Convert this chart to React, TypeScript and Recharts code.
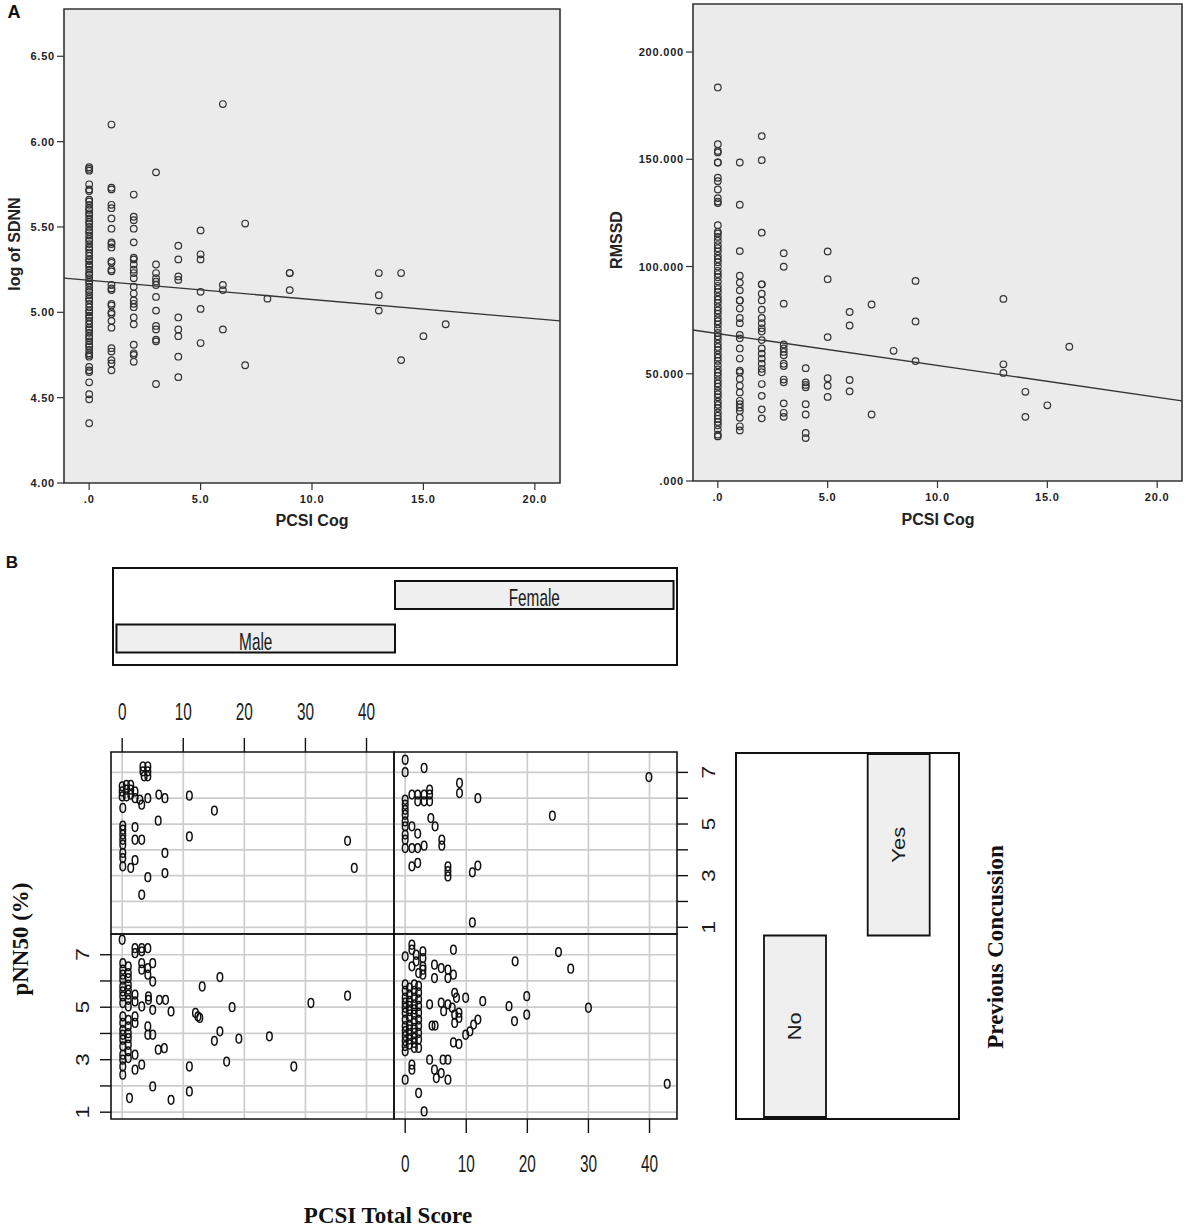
import React from 'react';
import {
  ScatterChart, Scatter, XAxis, YAxis, CartesianGrid, ReferenceLine, ReferenceArea,
  BarChart, Bar, LabelList,
} from 'recharts';

const SANS = '"Liberation Sans", Arial, Helvetica, sans-serif';
const SERIF = '"Liberation Serif", "Times New Roman", serif';

// ---------------- Panel A data ----------------
const cogTicks = [0, 5, 10, 15, 20];
const cogDomain = [-1.13, 21.13];
const sdnnTicks = [4, 4.5, 5, 5.5, 6, 6.5];
const sdnnDomain = [4, 6.777];
const rmssdTicks = [0, 50, 100, 150, 200];
const rmssdDomain = [0, 222.4];

// [PCSI Cog score, log of SDNN values]
const sdnnCols: [number, number[]][] = [
  [0, [5.85, 5.84, 5.83, 5.75, 5.72, 5.71, 5.66, 5.65, 5.63, 5.61, 5.6, 5.58, 5.57, 5.55, 5.53, 5.52, 5.5, 5.48, 5.47, 5.45, 5.43, 5.42, 5.4, 5.38, 5.37, 5.35, 5.33, 5.31, 5.3, 5.28, 5.27, 5.25, 5.23, 5.22, 5.2, 5.18, 5.17, 5.15, 5.13, 5.12, 5.1, 5.08, 5.07, 5.05, 5.03, 5.01, 5.0, 4.98, 4.97, 4.95, 4.93, 4.91, 4.9, 4.88, 4.86, 4.85, 4.83, 4.81, 4.8, 4.78, 4.76, 4.75, 4.74, 4.68, 4.66, 4.65, 4.59, 4.52, 4.49, 4.35]],
  [1, [6.1, 5.73, 5.72, 5.63, 5.61, 5.55, 5.49, 5.41, 5.4, 5.38, 5.3, 5.29, 5.25, 5.24, 5.16, 5.14, 5.13, 5.05, 5.04, 5.0, 4.99, 4.95, 4.91, 4.79, 4.77, 4.72, 4.7, 4.66]],
  [2, [5.69, 5.56, 5.54, 5.49, 5.41, 5.32, 5.31, 5.28, 5.25, 5.23, 5.2, 5.15, 5.11, 5.07, 5.05, 5.03, 4.97, 4.93, 4.81, 4.76, 4.75, 4.71]],
  [3, [5.82, 5.28, 5.23, 5.2, 5.18, 5.16, 5.09, 5.01, 4.92, 4.9, 4.84, 4.83, 4.58]],
  [4, [5.39, 5.31, 5.21, 5.19, 4.97, 4.9, 4.86, 4.74, 4.62]],
  [5, [5.48, 5.34, 5.31, 5.12, 5.02, 4.82]],
  [6, [6.22, 5.16, 5.13, 4.9]],
  [7, [5.52, 4.69]],
  [8, [5.08]],
  [9, [5.23, 5.23, 5.13]],
  [13, [5.23, 5.1, 5.01]],
  [14, [5.23, 4.72]],
  [15, [4.86]],
  [16, [4.93]],
];

// [PCSI Cog score, RMSSD values]
const rmssdCols: [number, number[]][] = [
  [0, [183.5, 157, 153.9, 153.2, 148.5, 148.5, 141.4, 139.8, 135.9, 131.9, 130.3, 129.6, 119.3, 116.2, 115.4, 113.8, 112, 110, 108.5, 107, 105, 103.5, 102, 100, 98, 96.5, 95, 93, 91, 89.5, 88, 86, 84.5, 83, 81, 79.5, 78, 76, 74.5, 73, 71, 69, 67.5, 66, 64, 62.5, 61, 59, 57.5, 56, 54, 52, 50.5, 49, 47, 45.5, 44, 42, 40.5, 39, 37, 35.5, 34, 32, 30.5, 29, 27.5, 26, 24, 21.6, 20.8]],
  [1, [148.5, 128.8, 107.2, 95.7, 92.5, 88.9, 84.2, 84.2, 80.4, 76, 73.6, 68.1, 66.5, 61.8, 57.1, 51.5, 50.7, 47.6, 44.4, 41.3, 37.4, 35.8, 34.2, 32.6, 29.5, 25.5, 23.6]],
  [2, [160.8, 149.6, 115.8, 91.7, 91.7, 87.3, 84.2, 79.9, 76, 73.6, 71.2, 69.7, 65.7, 61.8, 59.4, 57.1, 54.7, 52.3, 50.7, 45.2, 39.7, 33.4, 29.2]],
  [3, [106.2, 99.9, 82.7, 63.7, 61.8, 60.2, 58.6, 54.7, 53.6, 47.3, 46.0, 36.2, 31.8, 29.9]],
  [4, [52.6, 46, 44.8, 43.7, 35.8, 31, 22.4, 20]],
  [5, [107, 94.1, 67.1, 47.9, 44.4, 39.2]],
  [6, [78.8, 72.5, 47.1, 41.8]],
  [7, [82.3, 31]],
  [8, [60.7]],
  [9, [93.3, 74.4, 55.9]],
  [13, [84.9, 54.4, 50.4]],
  [14, [41.6, 29.9]],
  [15, [35.3]],
  [16, [62.6]],
];

const sdnnFit = [{ x: -1.13, y: 5.2 }, { x: 21.13, y: 4.95 }];
const rmssdFit = [{ x: -1.13, y: 70.4 }, { x: 21.13, y: 37.4 }];

// ---------------- Panel B data ----------------
const pcsiTicks = [0, 10, 20, 30, 40];
const pcsiDomain = [-1.83, 44.5];
const pnnTicks = [1, 2, 3, 4, 5, 6, 7];
const pnnDomain = [0.74, 7.79];

const genderLevels = ['Female', 'Male'];
const genderIntervals = [[1.5, 2.5], [0.5, 1.5]];
const concussionLevels = ['No', 'Yes'];
const concussionIntervals = [[0.5, 1.5], [1.5, 2.5]];

// [PCSI total score, pNN50]
const maleYes: number[][] = [
  [3.4, 7.23], [4.2, 7.23], [3.4, 7.04], [4.2, 7.04], [3.6, 6.85], [4.2, 6.85],
  [0, 6.46], [0.7, 6.52], [1.4, 6.52], [0, 6.26], [0.7, 6.33], [1.4, 6.33], [2.1, 6.26], [0, 6.07], [0.7, 6.07], [1.4, 6.14], [2.1, 6.0], [2.9, 5.94], [3.2, 5.75],
  [6.0, 6.14], [7.0, 6.0], [4.2, 6.0], [11.0, 6.1], [15.1, 5.52], [5.9, 5.13], [0.1, 5.62],
  [0.1, 4.94], [0.1, 4.78], [0.1, 4.59], [0.1, 4.39], [0.1, 4.2], [0.1, 3.88], [0.1, 3.68],
  [2.1, 4.88], [2.1, 4.39], [3.2, 4.39], [11.0, 4.52], [7.0, 3.88], [2.1, 3.6], [0.1, 3.36], [1.4, 3.3], [7.0, 3.1], [4.2, 2.94], [3.2, 2.26], [36.9, 4.35], [38.0, 3.3],
];
const femaleYes: number[][] = [
  [0, 7.49], [0, 7.01], [3.1, 7.17],
  [8.9, 6.59], [8.9, 6.2], [11.9, 6.0],
  [1.1, 6.14], [2.05, 6.14], [3.1, 6.14], [4.0, 6.14], [4.0, 6.33], [2.05, 5.88], [3.1, 5.88], [4.0, 5.88],
  [0, 5.94], [0, 5.75], [0, 5.55], [0, 5.36], [0, 5.1], [0, 4.91], [0, 4.59], [0, 4.39], [0, 4.07],
  [1.1, 4.07], [2.05, 4.07], [3.1, 4.16], [1.1, 4.91], [2.05, 4.63], [4.2, 5.23], [4.9, 4.91],
  [6.0, 4.39], [6.0, 4.16], [1.1, 3.36], [2.05, 3.49], [7.0, 3.36], [7.0, 3.17], [7.0, 2.97], [11.0, 3.13], [11.9, 3.39], [11.0, 1.19], [24.1, 5.32], [39.9, 6.82],
];
const maleNo: number[][] = [
  [0, 7.57],
  [2.1, 7.25], [3.2, 7.25], [4.2, 7.25], [2.1, 7.06], [3.2, 7.13],
  [0.1, 6.68], [0.1, 6.43], [0.1, 6.24], [0.1, 6.05], [0.1, 5.79], [0.1, 5.6], [0.1, 5.41], [0.1, 5.16], [0.1, 4.65], [0.1, 4.4], [0.1, 4.14], [0.1, 3.95], [0.1, 3.76], [0.1, 3.51], [0.1, 3.19], [0.1, 3.0], [0.1, 2.74], [0.1, 2.43],
  [1.0, 6.56], [1.0, 6.3], [1.0, 6.11], [1.0, 5.86], [1.0, 5.67], [1.0, 5.48], [1.0, 5.28], [1.0, 5.03], [1.0, 4.52], [1.0, 4.27], [1.0, 4.01], [1.0, 3.82], [1.0, 3.57], [1.0, 3.32], [1.0, 3.06],
  [2.1, 3.19], [2.1, 2.62], [3.2, 2.81], [2.1, 4.65], [2.1, 4.4],
  [3.2, 6.68], [4.2, 6.49], [5.0, 6.68], [3.2, 6.43], [4.2, 6.24], [5.0, 5.98],
  [2.1, 5.48], [2.1, 5.22], [3.2, 5.03], [4.3, 5.28], [5.0, 4.9], [4.3, 5.41], [6.1, 5.28], [7.1, 5.28], [8.0, 4.84],
  [4.2, 4.27], [4.2, 3.95], [5.0, 3.95], [5.9, 3.38], [6.9, 3.44],
  [5.0, 1.98], [1.2, 1.54], [8.0, 1.47], [11.0, 2.74], [11.0, 1.79],
  [12.0, 4.78], [12.4, 4.65], [12.7, 4.59], [13.1, 5.79], [16.0, 6.15], [18.0, 5.0], [16.0, 4.08], [15.1, 3.72], [19.1, 3.8], [17.1, 2.93], [24.1, 3.89], [28.1, 2.74], [30.9, 5.16], [36.9, 5.44],
];
const femaleNo: number[][] = [
  [1.1, 7.38], [1.1, 7.19], [2.9, 7.13], [2.9, 6.87], [2.9, 6.56], [1.8, 7.0], [1.8, 6.75], [0, 6.94], [1.1, 6.56], [7.9, 7.19],
  [2.9, 6.43], [2.9, 6.24], [4.8, 6.62], [5.9, 6.49], [7.0, 6.43], [4.8, 6.11], [7.0, 6.11], [7.9, 6.24], [2.2, 6.3],
  [0, 5.87], [0, 5.62], [0, 5.36], [0, 5.17], [0, 4.98], [0, 4.79], [0, 4.53], [0, 4.28], [0, 4.09], [0, 3.9], [0, 3.71], [0, 3.52], [0, 3.32],
  [0.7, 5.75], [0.7, 5.49], [0.7, 5.24], [0.7, 5.05], [0.7, 4.85], [0.7, 4.6], [0.7, 4.34], [0.7, 4.15], [0.7, 3.96], [0.7, 3.77], [0.7, 3.58],
  [1.5, 5.87], [1.5, 5.62], [1.5, 5.36], [1.5, 5.11], [1.5, 4.92], [1.5, 4.72], [1.5, 4.47], [1.5, 4.21], [1.5, 4.02], [1.5, 3.83], [1.5, 3.64], [1.5, 3.45],
  [2.2, 5.81], [2.2, 5.56], [2.2, 5.3], [2.2, 5.05], [2.2, 4.79], [2.2, 4.53], [2.2, 4.28], [2.2, 4.02], [2.2, 3.77], [2.2, 3.45],
  [4.0, 5.11], [5.9, 5.17], [6.3, 4.85], [7.0, 5.11], [7.7, 4.98], [8.1, 4.72], [8.8, 4.79], [8.1, 4.4], [8.8, 4.59], [9.9, 5.36], [8.1, 5.55], [8.4, 5.36], [12.7, 5.23], [17.0, 5.04], [17.9, 4.47], [19.9, 5.42], [19.9, 4.72], [30.0, 4.98],
  [4.4, 4.3], [4.9, 4.3], [7.9, 3.66], [8.8, 3.6], [9.9, 3.95], [10.6, 4.08], [11.2, 4.34], [11.9, 4.53],
  [4.0, 3.0], [6.2, 3.0], [7.0, 3.0], [4.8, 2.62], [5.1, 2.3], [5.9, 2.49], [7.0, 2.24], [0, 2.24], [2.2, 1.73], [3.1, 1.03], [1.1, 2.62], [1.1, 2.81],
  [18.0, 6.75], [25.1, 7.1], [27.1, 6.47], [42.9, 2.08],
];

// ---------------- helpers ----------------
const fromCols = (cols: [number, number[]][]) => cols.flatMap(([x, ys]) => ys.map((y) => ({ x, y })));
const fromPairs = (arr: number[][]) => arr.map(([x, y]) => ({ x, y }));
const spssNum = (v: number, d: number) => (v === 0 ? '.' + '0'.repeat(d) : v.toFixed(d));

const ring = (p: any) => (
  <circle cx={p.cx} cy={p.cy} r={3.3} fill="none" stroke="#333" strokeWidth={1.2} />
);
const oval = (p: any) => (
  <ellipse cx={p.cx} cy={p.cy} rx={2.8} ry={4.4} fill="none" stroke="#111" strokeWidth={1.5} />
);

const Txt = ({ x, y, children, rot = 0, style = {} }: any) => (
  <div
    style={{
      position: 'absolute', left: x, top: y, whiteSpace: 'nowrap', lineHeight: 1,
      transform: `translate(-50%, -50%) rotate(${rot}deg)`, ...style,
    }}
  >
    {children}
  </div>
);

const spssTickStyle = { fontFamily: SANS, fontWeight: 700, fontSize: 11, fill: '#222', letterSpacing: '0.8px' } as any;

function SpssPlot({ left, top, axisW, plotW, plotH, data, fit, yTicks, yDomain, yDec }: any) {
  const m = { top: 4, right: 4, bottom: 0, left: 0 };
  const xH = 40;
  const W = axisW + plotW + m.right;
  const H = m.top + plotH + xH;
  const XTick = (p: any) => (
    <text x={p.x} y={p.y + 9} textAnchor="middle" style={spssTickStyle}>{spssNum(p.payload.value, 1)}</text>
  );
  const YTick = (p: any) => (
    <text x={p.x} y={p.y + 4} textAnchor="end" style={spssTickStyle}>{spssNum(p.payload.value, yDec)}</text>
  );
  return (
    <div style={{ position: 'absolute', left, top: top - m.top, width: W, height: H }}>
      <ScatterChart width={W} height={H} margin={m}>
        <CartesianGrid fill="#ebebeb" fillOpacity={1} horizontal={false} vertical={false} stroke="none" />
        <XAxis type="number" dataKey="x" domain={cogDomain} ticks={cogTicks} allowDataOverflow interval={0}
          height={xH} tickSize={7} tickMargin={4} axisLine={false} tickLine={{ stroke: '#333', strokeWidth: 1.2 }} tick={XTick} />
        <YAxis type="number" dataKey="y" domain={yDomain} ticks={yTicks} allowDataOverflow interval={0}
          width={axisW} tickSize={7} tickMargin={2} axisLine={false} tickLine={{ stroke: '#333', strokeWidth: 1.2 }} tick={YTick} />
        <ReferenceArea x1={cogDomain[0]} x2={cogDomain[1]} y1={yDomain[0]} y2={yDomain[1]} fill="none" fillOpacity={0}
          stroke="#333" strokeWidth={1.6} ifOverflow="visible" />
        <Scatter data={data} shape={ring} isAnimationActive={false} />
        <ReferenceLine segment={fit} stroke="#333" strokeWidth={1.3} ifOverflow="visible" />
      </ScatterChart>
    </div>
  );
}

const latticeTickText = { fontFamily: SANS, fontSize: 24, fill: '#1a1a1a' } as any;

const TopTick = (p: any) => (
  <g transform={`translate(${p.x},${p.y - 26}) scale(0.64,1)`}>
    <text x={0} y={0} textAnchor="middle" dominantBaseline="central" style={latticeTickText}>{p.payload.value}</text>
  </g>
);
const BottomTick = (p: any) => (
  <g transform={`translate(${p.x},${p.y + 31}) scale(0.64,1)`}>
    <text x={0} y={0} textAnchor="middle" dominantBaseline="central" style={latticeTickText}>{p.payload.value}</text>
  </g>
);
const LeftTick = (p: any) =>
  p.payload.value % 2 === 1 ? (
    <g transform={`translate(${p.x - 18},${p.y}) rotate(-90) scale(1,0.78)`}>
      <text x={0} y={0} textAnchor="middle" dominantBaseline="central" style={{ ...latticeTickText, fontSize: 23 }}>{p.payload.value}</text>
    </g>
  ) : <g />;
const RightTick = (p: any) =>
  p.payload.value % 2 === 1 ? (
    <g transform={`translate(${p.x + 20},${p.y}) rotate(-90) scale(1,0.78)`}>
      <text x={0} y={0} textAnchor="middle" dominantBaseline="central" style={{ ...latticeTickText, fontSize: 23 }}>{p.payload.value}</text>
    </g>
  ) : <g />;

function LatticePanel({ box, pts, top, bottom, left, right }: any) {
  const m = 4;
  const topH = top ? 60 : 0;
  const botH = bottom ? 60 : 0;
  const leftW = left ? 45 : 0;
  const rightW = right ? 45 : 0;
  const W = box.w + 2 * m + leftW + rightW;
  const H = box.h + 2 * m + topH + botH;
  const showX = !!(top || bottom);
  const showY = !!(left || right);
  return (
    <div style={{ position: 'absolute', left: box.x - m - leftW, top: box.y - m - topH, width: W, height: H }}>
      <ScatterChart width={W} height={H} margin={{ top: m, right: m, bottom: m, left: m }}>
        <CartesianGrid horizontalValues={pnnTicks} verticalValues={pcsiTicks} stroke="#cdcdcd" strokeWidth={1.7} />
        <XAxis type="number" dataKey="x" domain={pcsiDomain} ticks={pcsiTicks} allowDataOverflow interval={0}
          hide={!showX} orientation={top ? 'top' : 'bottom'} height={top ? topH : botH || 30}
          tickSize={14} tickMargin={0} axisLine={false} tickLine={{ stroke: '#111', strokeWidth: 1.4 }}
          tick={top ? TopTick : BottomTick} />
        <YAxis type="number" dataKey="y" domain={pnnDomain} ticks={pnnTicks} allowDataOverflow interval={0}
          hide={!showY} orientation={left ? 'left' : 'right'} width={left ? leftW : rightW || 30}
          tickSize={11} tickMargin={0} axisLine={false} tickLine={{ stroke: '#111', strokeWidth: 1.4 }}
          tick={left ? LeftTick : RightTick} />
        <ReferenceArea x1={pcsiDomain[0]} x2={pcsiDomain[1]} y1={pnnDomain[0]} y2={pnnDomain[1]} fill="none" fillOpacity={0}
          stroke="#111" strokeWidth={1.6} ifOverflow="visible" />
        <Scatter data={pts} shape={oval} isAnimationActive={false} />
      </ScatterChart>
    </div>
  );
}

const stripText = { fontFamily: SANS, fontSize: 24, fill: '#1a1a1a' } as any;

const GenderLabel = (p: any) => (
  <g transform={`translate(${p.x + p.width / 2},${p.y + p.height / 2 + 3}) scale(0.64,1)`}>
    <text x={0} y={0} textAnchor="middle" dominantBaseline="central" style={stripText}>{p.value}</text>
  </g>
);
const ConcussionLabel = (p: any) => (
  <g transform={`translate(${p.x + p.width / 2},${p.y + p.height / 2}) rotate(-90) scale(1,0.82)`}>
    <text x={0} y={0} textAnchor="middle" dominantBaseline="central" style={{ ...stripText, fontSize: 22 }}>{p.value}</text>
  </g>
);

function GenderStrip() {
  const plot = { x: 112, y: 573.25, w: 566, h: 87 };
  const m = 4;
  const data = genderLevels.map((g, i) => ({ g, range: genderIntervals[i] }));
  return (
    <>
      <div style={{ position: 'absolute', left: 112, top: 567, width: 566, height: 99, border: '2px solid #111', boxSizing: 'border-box' }} />
      <div style={{ position: 'absolute', left: plot.x - m, top: plot.y - m, width: plot.w + 2 * m, height: plot.h + 2 * m }}>
        <BarChart layout="vertical" width={plot.w + 2 * m} height={plot.h + 2 * m} data={data}
          margin={{ top: m, right: m, bottom: m, left: m }}>
          <XAxis type="number" domain={[0.484, 2.516]} allowDataOverflow hide />
          <YAxis type="category" dataKey="g" hide />
          <Bar dataKey="range" fill="#efefef" stroke="#111" strokeWidth={2} barSize={28} isAnimationActive={false}>
            <LabelList dataKey="g" content={GenderLabel} />
          </Bar>
        </BarChart>
      </div>
    </>
  );
}

function ConcussionStrip() {
  const plot = { x: 743.15, y: 752, w: 207.4, h: 367 };
  const m = 4;
  const data = concussionLevels.map((c, i) => ({ c, range: concussionIntervals[i] }));
  return (
    <>
      <div style={{ position: 'absolute', left: 735, top: 752, width: 225, height: 368, border: '2px solid #111', boxSizing: 'border-box' }} />
      <div style={{ position: 'absolute', left: plot.x - m, top: plot.y - m, width: plot.w + 2 * m, height: plot.h + 2 * m }}>
        <BarChart width={plot.w + 2 * m} height={plot.h + 2 * m} data={data}
          margin={{ top: m, right: m, bottom: m, left: m }}>
          <XAxis type="category" dataKey="c" hide />
          <YAxis type="number" domain={[0.489, 2.511]} allowDataOverflow hide />
          <Bar dataKey="range" fill="#efefef" stroke="#111" strokeWidth={1.8} barSize={62} isAnimationActive={false}>
            <LabelList dataKey="c" content={ConcussionLabel} />
          </Bar>
        </BarChart>
      </div>
    </>
  );
}

const sansBold = { fontFamily: SANS, fontWeight: 700, color: '#222' };
const serifBold = { fontFamily: SERIF, fontWeight: 700, color: '#111', fontSize: 23 };

export default function App() {
  return (
    <div style={{ position: 'absolute', left: 0, top: 0, width: 1192, height: 1227, background: '#fff', overflow: 'hidden' }}>
      {/* Panel A */}
      <Txt x={14} y={12} style={{ ...sansBold, fontSize: 18, color: '#111' }}>A</Txt>
      <SpssPlot left={0} top={9} axisW={64} plotW={496} plotH={474}
        data={fromCols(sdnnCols)} fit={sdnnFit} yTicks={sdnnTicks} yDomain={sdnnDomain} yDec={2} />
      <Txt x={15} y={244} rot={-90} style={{ ...sansBold, fontSize: 16 }}>log of SDNN</Txt>
      <Txt x={312} y={521} style={{ ...sansBold, fontSize: 16 }}>PCSI Cog</Txt>

      <SpssPlot left={600} top={4} axisW={93} plotW={489} plotH={477}
        data={fromCols(rmssdCols)} fit={rmssdFit} yTicks={rmssdTicks} yDomain={rmssdDomain} yDec={3} />
      <Txt x={617} y={240} rot={-90} style={{ ...sansBold, fontSize: 16 }}>RMSSD</Txt>
      <Txt x={938} y={520} style={{ ...sansBold, fontSize: 16 }}>PCSI Cog</Txt>

      {/* Panel B */}
      <Txt x={12} y={562} style={{ ...sansBold, fontSize: 17, color: '#111' }}>B</Txt>
      <GenderStrip />
      <LatticePanel box={{ x: 111, y: 752, w: 283, h: 182 }} pts={fromPairs(maleYes)} top />
      <LatticePanel box={{ x: 394, y: 752, w: 283, h: 182 }} pts={fromPairs(femaleYes)} right />
      <LatticePanel box={{ x: 111, y: 934, w: 283, h: 185 }} pts={fromPairs(maleNo)} left />
      <LatticePanel box={{ x: 394, y: 934, w: 283, h: 185 }} pts={fromPairs(femaleNo)} bottom />
      <ConcussionStrip />
      <Txt x={20} y={939} rot={-90} style={serifBold}>pNN50 (%)</Txt>
      <Txt x={388} y={1215} style={serifBold}>PCSI Total Score</Txt>
      <Txt x={995} y={947} rot={-90} style={serifBold}>Previous Concussion</Txt>
    </div>
  );
}
